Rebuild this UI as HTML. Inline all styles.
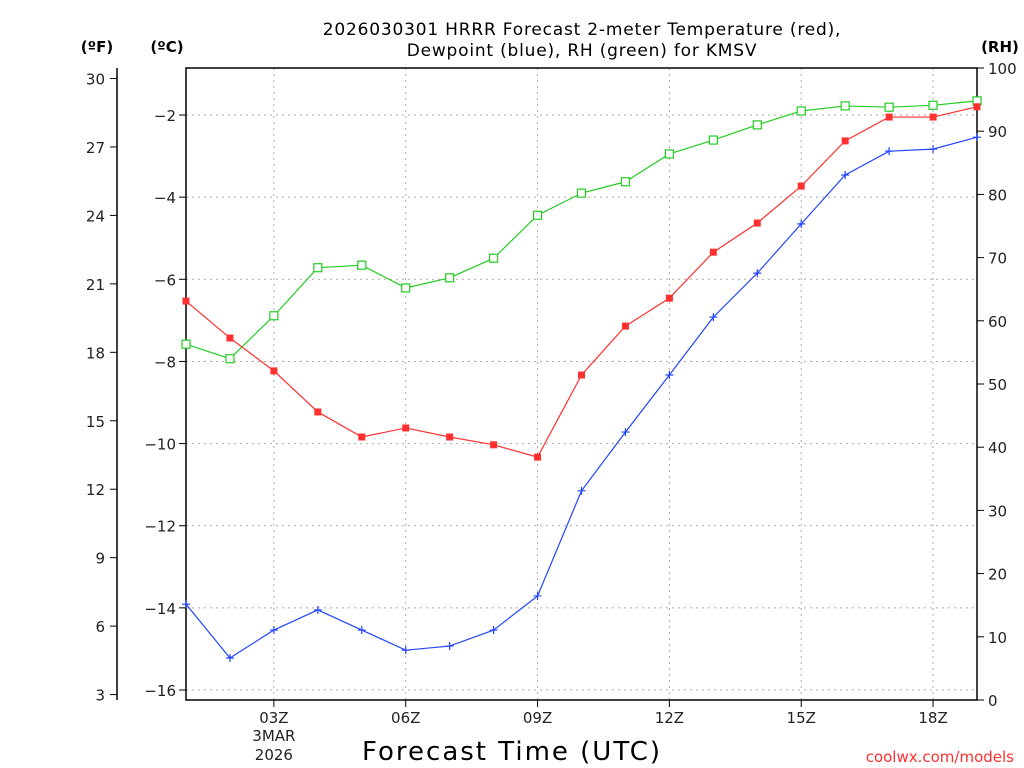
<!DOCTYPE html>
<html><head><meta charset="utf-8"><style>
body{margin:0;background:#fff;}
svg{display:block;font-family:"DejaVu Sans","Liberation Sans",sans-serif;}
</style></head><body>
<svg id="chart" width="1024" height="768" viewBox="0 0 1024 768" xmlns="http://www.w3.org/2000/svg">
<rect width="1024" height="768" fill="#fff"/>
<text x="582" y="35" font-size="17" letter-spacing="0.8" text-anchor="middle">2026030301 HRRR Forecast 2-meter Temperature (red),</text>
<text x="582" y="56" font-size="17" letter-spacing="0.8" text-anchor="middle">Dewpoint (blue), RH (green) for KMSV</text>
<text x="97" y="52" font-size="15" font-weight="bold" text-anchor="middle">(ºF)</text>
<text x="167" y="52" font-size="15" font-weight="bold" text-anchor="middle">(ºC)</text>
<text x="1000" y="52" font-size="15" font-weight="bold" text-anchor="middle">(RH)</text>
<text x="512" y="760" font-size="26" letter-spacing="2" text-anchor="middle">Forecast Time (UTC)</text>
<text x="1014" y="762" font-size="15" fill="#ff3030" text-anchor="end">coolwx.com/models</text>
<g id="grid"></g><g id="axes" fill="#222"></g><g id="series"></g>
</svg>
<script>
const hours = [1,2,3,4,5,6,7,8,9,10,11,12,13,14,15,16,17,18,19];
const tempC = [-6.53,-7.43,-8.23,-9.23,-9.84,-9.62,-9.84,-10.03,-10.33,-8.33,-7.14,-6.46,-5.34,-4.63,-3.73,-2.63,-2.05,-2.05,-1.8];
const dewC = [-13.91,-15.22,-14.54,-14.05,-14.54,-15.03,-14.93,-14.54,-13.71,-11.15,-9.72,-8.33,-6.92,-5.85,-4.65,-3.46,-2.88,-2.83,-2.54];
const rh = [56.3,54.0,60.8,68.4,68.8,65.2,66.8,69.9,76.7,80.2,82.0,86.4,88.6,91.0,93.2,94.0,93.8,94.1,94.8];
const cTicks = [-16,-14,-12,-10,-8,-6,-4,-2];
const fTicks = [3,6,9,12,15,18,21,24,27,30];
const rhTicks = [0,10,20,30,40,50,60,70,80,90,100];
const xTicks = [3,6,9,12,15,18];
const xTickLabels = ["03Z","06Z","09Z","12Z","15Z","18Z"];

const L=186,R=977,T=68,B=700;
const xS=h=>L+(h-1)*(R-L)/18;
const cS=c=>690-(c+16)*41.07;
const fS=f=>cS((f-32)*5/9);
const rS=v=>B-v*(B-T)/100;
const NS="http://www.w3.org/2000/svg";
function mk(tag,parent,attrs){const e=document.createElementNS(NS,tag);for(const k in attrs)e.setAttribute(k,attrs[k]);document.getElementById(parent).appendChild(e);return e;}

xTicks.forEach(h=>{const e=mk('line','grid',{x1:xS(h),x2:xS(h),y1:T,y2:B,stroke:'#aaa','stroke-dasharray':'2,4'});

});
cTicks.forEach(c=>{const e=mk('line','grid',{x1:L,x2:R,y1:cS(c),y2:cS(c),stroke:'#aaa','stroke-dasharray':'2,4'});

});
const fr=mk('rect','axes',{x:L,y:T,width:R-L,height:B-T,fill:'none',stroke:'#000','stroke-width':1.5});


xTicks.forEach((h,i)=>{mk('line','axes',{x1:xS(h),x2:xS(h),y1:B,y2:B+7,stroke:'#000'});
const t=mk('text','axes',{x:xS(h),y:723,'font-size':15,'text-anchor':'middle'});t.textContent=xTickLabels[i];

});
[["3MAR",741],["2026",760]].forEach(a=>{const t=mk('text','axes',{x:xS(3),y:a[1],'font-size':15,'text-anchor':'middle'});t.textContent=a[0];

});
cTicks.forEach(c=>{mk('line','axes',{x1:L-7,x2:L,y1:cS(c),y2:cS(c),stroke:'#000'});
const t=mk('text','axes',{x:176,y:cS(c)+6,'font-size':15,'text-anchor':'end'});t.textContent=c.toString().replace('-','\u2212');

});
mk('line','axes',{x1:117,x2:117,y1:T,y2:B,stroke:'#000','stroke-width':1.5});
fTicks.forEach(f=>{mk('line','axes',{x1:110,x2:117,y1:fS(f),y2:fS(f),stroke:'#000'});
const t=mk('text','axes',{x:105,y:fS(f)+6,'font-size':15,'text-anchor':'end'});t.textContent=f;

});
rhTicks.forEach(v=>{mk('line','axes',{x1:R,x2:R+7,y1:rS(v),y2:rS(v),stroke:'#000'});
const t=mk('text','axes',{x:988,y:rS(v)+6,'font-size':15,'text-anchor':'start'});t.textContent=v;

});

function series(vals,sc,color,kind,name){
 const pts=vals.map((v,i)=>[xS(hours[i]),sc(v)]);
 const p=mk('polyline','series',{points:pts.map(p=>p.join(',')).join(' '),fill:'none',stroke:color,'stroke-width':1.2});
 
 
 pts.forEach(([x,y])=>{let m;
  if(kind==='fill')m=mk('rect','series',{x:x-3.5,y:y-3.5,width:7,height:7,fill:color});
  else if(kind==='open')m=mk('rect','series',{x:x-4,y:y-4,width:8,height:8,fill:'#fff',stroke:color,'stroke-width':1.2});
  else m=mk('path','series',{d:`M${x-4},${y}H${x+4}M${x},${y-4}V${y+4}`,stroke:color,'stroke-width':1.2});
  
  });
}
series(rh,rS,'#22cc22','open','rh');
series(tempC,cS,'#ff3030','fill','temperature');
series(dewC,cS,'#2244ff','plus','dewpoint');
</script>
</body></html>
